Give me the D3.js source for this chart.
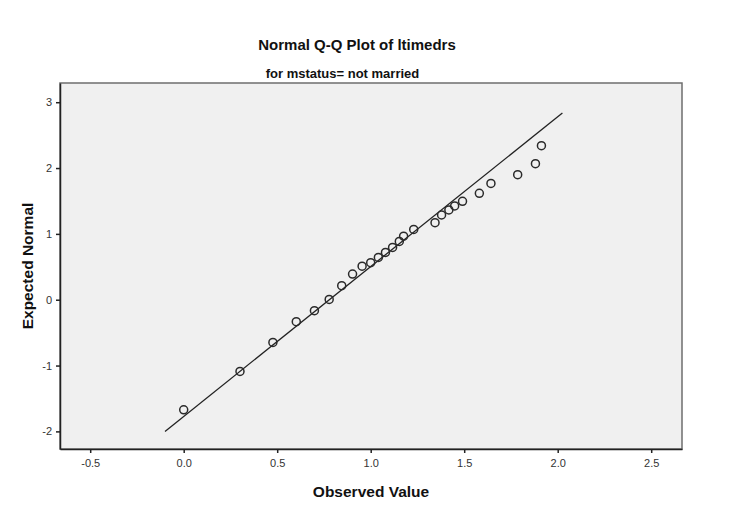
<!DOCTYPE html>
<html>
<head>
<meta charset="utf-8">
<script src="https://cdn.jsdelivr.net/npm/d3@7"></script>
<style>
  html, body { margin: 0; padding: 0; background: #fff; }
  svg text { font-family: "Liberation Sans", Arial, sans-serif; }
</style>
</head>
<body>
<svg id="chart" width="732" height="519"></svg>
<script>
// Observed values (ltimedrs) and expected normal quantiles
const observed = [0.000, 0.301, 0.477, 0.602, 0.699, 0.778, 0.845, 0.903, 0.954, 1.000,
                  1.041, 1.079, 1.117, 1.153, 1.176, 1.230, 1.344, 1.379, 1.418, 1.449,
                  1.491, 1.581, 1.643, 1.786, 1.881, 1.913];
const expected = [-1.672, -1.090, -0.649, -0.334, -0.167, 0.005, 0.213, 0.390, 0.509, 0.562,
                  0.643, 0.719, 0.795, 0.886, 0.965, 1.068, 1.170, 1.287, 1.363, 1.424,
                  1.494, 1.616, 1.767, 1.900, 2.067, 2.340];
// Reference line: mean and sd of observed, drawn between these x extents
const refMean = [0.779];
const refSd = [0.4393];
const refX = [-0.10, 2.025];

const xTicks = [-0.5, 0.0, 0.5, 1.0, 1.5, 2.0, 2.5];
const yTicks = [-2, -1, 0, 1, 2, 3];

const title = "Normal Q-Q Plot of ltimedrs";
const subtitle = "for mstatus= not married";
const xLabel = "Observed Value";
const yLabel = "Expected Normal";

const svg = d3.select("#chart");
const L = 60, T = 83, R = 682, B = 449;

const x = d3.scaleLinear().domain([-0.6615, 2.6647]).range([L, R]);
const y = d3.scaleLinear().domain([-2.2675, 3.2918]).range([B, T]);

// Plot background
svg.append("rect").attr("x", L).attr("y", T).attr("width", R - L).attr("height", B - T)
  .attr("fill", "#f0f0f0").attr("stroke", "#6e6e6e").attr("stroke-width", 1.5);

const hyph = f => d => f(d).replace("\u2212", "-");
// Axes
const xAxis = d3.axisBottom(x).tickValues(xTicks).tickFormat(hyph(d3.format(".1f")))
  .tickSizeInner(4).tickSizeOuter(0).tickPadding(6);
const yAxis = d3.axisLeft(y).tickValues(yTicks).tickFormat(hyph(d3.format("d")))
  .tickSizeInner(4).tickSizeOuter(0).tickPadding(4);

const gx = svg.append("g").attr("transform", `translate(0,${B})`).call(xAxis);
const gy = svg.append("g").attr("transform", `translate(${L},0)`).call(yAxis);
[gx, gy].forEach(g => {
  g.select(".domain").attr("stroke", "#222").attr("stroke-width", 1.5);
  g.selectAll(".tick line").attr("stroke", "#222").attr("stroke-width", 1.5);
  g.selectAll(".tick text").attr("fill", "#333").attr("font-size", "11px")
    .style("font-family", "'Liberation Sans', Arial, sans-serif");
});

// Reference line
const lineY = refX.map(v => (v - refMean[0]) / refSd[0]);
svg.append("line")
  .attr("x1", x(refX[0])).attr("y1", y(lineY[0]))
  .attr("x2", x(refX[1])).attr("y2", y(lineY[1]))
  .attr("stroke", "#222").attr("stroke-width", 1.3);

// Points
svg.append("g").selectAll("circle").data(observed.map((d, i) => [d, expected[i]]))
  .join("circle")
  .attr("cx", d => x(d[0])).attr("cy", d => y(d[1])).attr("r", 4)
  .attr("fill", "none").attr("stroke", "#2a2a2a").attr("stroke-width", 1.5);

// Titles
svg.append("text").attr("x", 357).attr("y", 50).attr("text-anchor", "middle")
  .attr("font-size", "15px").attr("font-weight", "bold").attr("fill", "#111").text(title);
svg.append("text").attr("x", 342.5).attr("y", 77.5).attr("text-anchor", "middle")
  .attr("font-size", "13px").attr("font-weight", "bold").attr("fill", "#111").text(subtitle);
svg.append("text").attr("x", 371).attr("y", 497).attr("text-anchor", "middle")
  .attr("font-size", "15.5px").attr("font-weight", "bold").attr("fill", "#111").text(xLabel);
svg.append("text").attr("transform", "translate(33,266) rotate(-90)").attr("text-anchor", "middle")
  .attr("font-size", "15.5px").attr("font-weight", "bold").attr("fill", "#111").text(yLabel);
</script>
</body>
</html>
